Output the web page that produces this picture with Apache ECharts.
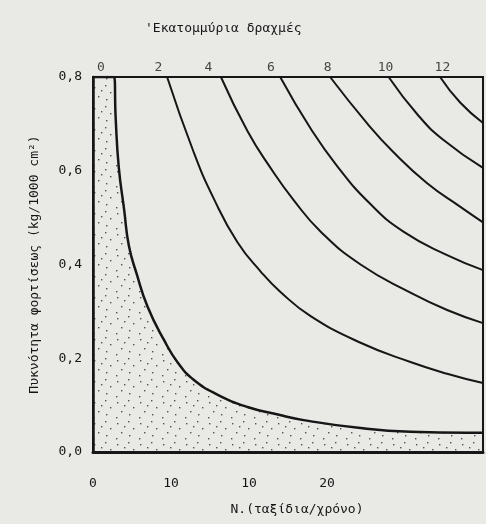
<!DOCTYPE html>
<html>
<head>
<meta charset="utf-8">
<script src="https://cdn.jsdelivr.net/npm/echarts@6/dist/echarts.min.js"></script>
<style>
  html, body { margin: 0; padding: 0; background: #e9e9e6; }
  #main { width: 486px; height: 524px; }
</style>
</head>
<body>
<div id="main"></div>
<script>
// x ticks as printed on the original (at 0, 10, 20, 30)
const xTickValues = [0, 10, 20, 30]
const xTickLabels = ['0', '10', '10', '20']

// contour labels along the top (millions of drachmas)
const contourNames = ['0', '2', '4', '6', '8', '10', '12']
const contourLabelX = [1.0, 8.4, 14.8, 22.8, 30.1, 37.5, 44.8]

// iso-cost curves [N, density]
const curve0 = [[0, 0.8], [2.7, 0.8], [2.9, 0.715], [3.3, 0.608], [4.0, 0.516], [4.6, 0.44], [5.6, 0.38], [7.0, 0.31], [9.1, 0.239], [10.9, 0.19], [12.9, 0.154], [16.0, 0.122], [19.8, 0.096], [23.7, 0.08], [27.0, 0.068], [34.3, 0.051], [40.7, 0.043], [48.0, 0.041], [50, 0.041]]
const curve2 = [[9.5, 0.8], [12.9, 0.64], [15.5, 0.54], [18.5, 0.448], [21.5, 0.385], [24.0, 0.342], [27.9, 0.29], [34.3, 0.233], [40.7, 0.192], [45.4, 0.167], [50, 0.147]]
const curve4 = [[16.4, 0.8], [19.8, 0.685], [22.8, 0.605], [25.7, 0.538], [29.2, 0.47], [34.3, 0.4], [40.7, 0.34], [45.4, 0.303], [50, 0.275]]
const curve6 = [[24.0, 0.8], [27.9, 0.69], [31.3, 0.61], [35.5, 0.53], [39.8, 0.47], [45.4, 0.42], [50, 0.388]]
const curve8 = [[30.4, 0.8], [35.2, 0.7], [38.5, 0.64], [42.8, 0.574], [47.1, 0.523], [50, 0.49]]
const curve10 = [[37.9, 0.8], [41.6, 0.72], [44.9, 0.666], [50, 0.606]]
const curve12 = [[44.5, 0.8], [47.1, 0.745], [50, 0.702]]

const font = 'DejaVu Sans Mono'
const ink = '#161616'

// stipple texture for the shaded region
const makeStipple = () => {
  const c = document.createElement('canvas')
  c.width = 23
  c.height = 21
  const ctx = c.getContext('2d')
  ctx.fillStyle = 'rgba(20,20,20,0.7)'
  const dots = [[2, 3], [13, 1], [18, 8], [6, 12], [14, 15], [1, 18], [9, 6]]
  dots.forEach(d => ctx.fillRect(d[0], d[1], 1.4, 1.4))
  return c
}

const lineSeries = (data, width) => ({
  type: 'line',
  data: data,
  symbol: 'none',
  smooth: 0.5,
  lineStyle: { color: ink, width: width },
  z: 3
})

const chart = echarts.init(document.querySelector('#main'))
const option = {
  backgroundColor: '#e9e9e6',
  animation: false,
  title: {
    text: '\'Εκατομμύρια δραχμές',
    left: 140,
    top: 17,
    textStyle: { fontFamily: font, fontSize: 13, fontWeight: 'normal', color: ink }
  },
  grid: {
    left: 93,
    right: 3,
    top: 77,
    bottom: 72,
    show: true,
    borderColor: ink,
    borderWidth: 2
  },
  xAxis: {
    type: 'value',
    min: 0,
    max: 50,
    interval: 10,
    name: 'N.(ταξίδια/χρόνο)',
    nameLocation: 'middle',
    nameGap: 51,
    nameTextStyle: { fontFamily: font, fontSize: 13, color: ink, padding: [0, 0, 0, 18] },
    axisLine: { lineStyle: { color: ink, width: 3 } },
    axisTick: { show: false },
    splitLine: { show: false },
    axisLabel: {
      margin: 25,
      fontFamily: font,
      fontSize: 13,
      color: ink,
      formatter: v => {
        const i = xTickValues.indexOf(v)
        return i >= 0 ? xTickLabels[i] : ''
      }
    }
  },
  yAxis: {
    type: 'value',
    min: 0,
    max: 0.8,
    interval: 0.2,
    name: 'Πυκνότητα φορτίσεως (kg/1000 cm²)',
    nameLocation: 'middle',
    nameGap: 52,
    nameTextStyle: { fontFamily: font, fontSize: 13, color: ink },
    axisLine: { lineStyle: { color: ink, width: 2.5 } },
    axisTick: { show: false },
    splitLine: { show: false },
    axisLabel: {
      margin: 11,
      fontFamily: font,
      fontSize: 13,
      color: ink,
      padding: [0, 0, 9, 0],
      formatter: v => v.toFixed(1).replace('.', ',')
    }
  },
  series: [
    {
      type: 'line',
      data: curve0,
      symbol: 'none',
      smooth: 0.5,
      lineStyle: { color: ink, width: 2.5 },
      areaStyle: { color: { image: makeStipple(), repeat: 'repeat' }, opacity: 1 },
      z: 2
    },
    lineSeries(curve2, 2),
    lineSeries(curve4, 2),
    lineSeries(curve6, 2),
    lineSeries(curve8, 2),
    lineSeries(curve10, 2),
    lineSeries(curve12, 2),
    {
      type: 'scatter',
      symbolSize: 1,
      itemStyle: { color: 'rgba(0,0,0,0)' },
      data: contourLabelX.map((x, i) => ({ value: [x, 0.8], name: contourNames[i] })),
      label: {
        show: true,
        position: 'top',
        distance: 2,
        formatter: '{b}',
        fontFamily: font,
        fontSize: 13,
        color: ink
      },
      z: 4
    }
  ]
}
chart.setOption(option)
</script>
</body>
</html>
